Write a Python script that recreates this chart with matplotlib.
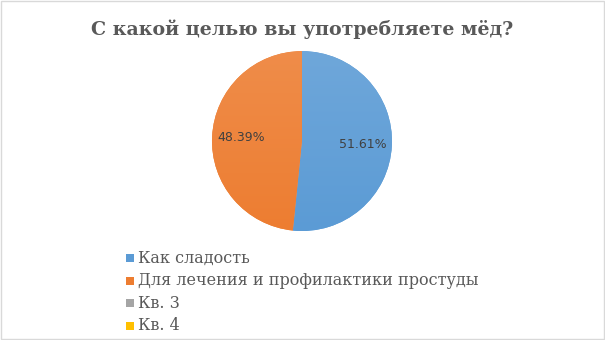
import numpy as np
import matplotlib
matplotlib.use("Agg")
import matplotlib.pyplot as plt
from matplotlib.patches import Rectangle

categories = ["Как сладость", "Для лечения и профилактики простуды", "Кв. 3", "Кв. 4"]
values = [16, 15, 0, 0]
colors = ["#5B9BD5", "#ED7D31", "#A5A5A5", "#FFC000"]
title = "С какой целью вы употребляете мёд?"

fig = plt.figure(figsize=(6.05, 3.4), dpi=100)
fig.patch.set_facecolor("white")
fig.add_artist(Rectangle((0.001, 0.002), 0.997, 0.995, transform=fig.transFigure,
                         fill=False, edgecolor="#D9D9D9", linewidth=1))

fig.text(0.5, 0.915, title, ha="center", va="center", fontsize=13.7,
         fontweight="bold", family="DejaVu Serif", color="#595959")

ax = fig.add_axes([0.3504, 0.3206, 0.2975, 0.529])
nz = [(v, c) for v, c in zip(values, colors) if v > 0]
wedges, _, autotexts = ax.pie([v for v, _ in nz], colors=[c for _, c in nz],
                              startangle=90, counterclock=False, radius=1.0,
                              autopct="%1.2f%%", pctdistance=0.68,
                              textprops=dict(fontsize=9, color="#404040",
                                             family="DejaVu Sans"),
                              wedgeprops=dict(linewidth=0))
ax.set_xlim(-1, 1)
ax.set_ylim(-1, 1)
ax.set_aspect("equal")

# soft vertical shading inside each wedge: lighter at the top
grad = np.linspace(0, 1, 256).reshape(-1, 1)
for w, (_, c) in zip(wedges, nz):
    base = np.array(matplotlib.colors.to_rgb(c))
    light = base + (1 - base) * 0.12
    img = base[None, None, :] * (1 - grad[..., None]) + light[None, None, :] * grad[..., None]
    im = ax.imshow(img, extent=[-1, 1, -1, 1], origin="lower", zorder=w.get_zorder() + 0.1,
                   aspect="auto")
    im.set_clip_path(w)
for t in autotexts:
    t.set_zorder(5)

# legend
y0 = 258
for i, (lab, c) in enumerate(zip(categories, colors)):
    y = 1 - (y0 + i * 22.6) / 340
    fig.add_artist(Rectangle((126 / 605, y - 4 / 340), 8 / 605, 8 / 340,
                             transform=fig.transFigure, facecolor=c, edgecolor="none"))
    fig.text(138 / 605, y, lab, ha="left", va="center", fontsize=11.5,
             family="DejaVu Serif", color="#595959")

fig.savefig("out.png", dpi=100)
